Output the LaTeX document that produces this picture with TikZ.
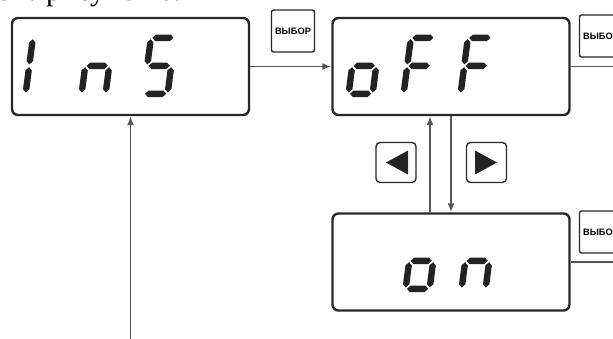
\documentclass[tikz,border=0pt]{standalone}
\usepackage{fontspec}
\setmainfont{Liberation Serif}
\newfontfamily\btnfont{Liberation Sans}
\usetikzlibrary{arrows.meta, positioning}
\definecolor{FrameGray}{RGB}{40,40,40}
\definecolor{LineGray}{RGB}{85,85,85}
\definecolor{SegGray}{RGB}{35,35,35}

\newcommand{\segh}[3]{\fill[SegGray] (#1+1.4,#3) -- (#1+4.6,#3+3.2) -- (#2-4.6,#3+3.2)
  -- (#2-1.4,#3) -- (#2-4.6,#3-3.2) -- (#1+4.6,#3-3.2) -- cycle;}
\newcommand{\segv}[3]{\fill[SegGray] (#1,#2+1.4) -- (#1+3.2,#2+4.6) -- (#1+3.2,#3-4.6)
  -- (#1,#3-1.4) -- (#1-3.2,#3-4.6) -- (#1-3.2,#2+4.6) -- cycle;}
\newcommand{\dsega}{\segh{0}{24}{56}}
\newcommand{\dsegb}{\segv{24}{28}{56}}
\newcommand{\dsegc}{\segv{24}{0}{28}}
\newcommand{\dsegd}{\segh{0}{24}{0}}
\newcommand{\dsege}{\segv{0}{0}{28}}
\newcommand{\dsegf}{\segv{0}{28}{56}}
\newcommand{\dsegg}{\segh{0}{24}{28}}
\newcommand{\segdigit}[3]{\begin{scope}[shift={(#1,#2)}, xslant=0.13]
  \foreach \s in {#3}{\csname dseg\s\endcsname}\end{scope}}

\begin{document}
\begin{tikzpicture}[x=1pt, y=1pt,
  display/.style={draw=FrameGray, line width=2.4pt, rounded corners=6pt,
                  minimum width=237pt, minimum height=97pt, inner sep=0pt},
  choose/.style={draw=FrameGray, line width=1.4pt, rounded corners=2pt,
                 minimum width=43pt, minimum height=42pt, inner sep=0pt,
                 font=\btnfont\bfseries\fontsize{9.3}{10}\selectfont},
  arrowkey/.style={draw=FrameGray, line width=1.4pt, rounded corners=4pt,
                   minimum width=40pt, minimum height=40pt, inner sep=0pt},
  arr/.style={-{Latex[length=9pt, width=7pt]}, LineGray, line width=1.5pt},
  ln/.style={LineGray, line width=1.5pt},
]
\useasboundingbox (0,0) rectangle (613,-338);

\node[anchor=base east, inner sep=0pt, font=\fontsize{30}{34}\selectfont] (ref) at (211,-0.5) {см. рисунок 6.21};

\node[display] (ins) at (130.5,-66.5) {};
\node[display] (off) at (451,-66.5) {};
\node[display] (on) at (451,-262) {};

\node[choose] (sel1) at (293,-31) {ВЫБОР};
\node[choose] (sel2) at (601,-36) {ВЫБОР};
\node[choose] (sel3) at (601,-232) {ВЫБОР};

\node[arrowkey] (left) at (396,-162.5) {};
\node[arrowkey] (right) at (486.5,-162.5) {};
\fill[SegGray] ([xshift=-10pt]left.center) -- ++(22,12) -- ++(0,-24) -- cycle;
\fill[SegGray] ([xshift=10.5pt]right.center) -- ++(-22,12) -- ++(0,-24) -- cycle;

\segdigit{25.6}{-93.8}{e,f}
\segdigit{81.6}{-93.8}{c,e,g}
\segdigit{143.6}{-93.8}{a,c,d,f,g}
\segdigit{348.6}{-93.8}{c,d,e,g}
\segdigit{403.6}{-93.8}{a,e,f,g}
\segdigit{460.6}{-93.8}{a,e,f,g}
\segdigit{405.6}{-288.8}{c,d,e,g}
\segdigit{461.6}{-288.8}{c,e,g}

\coordinate (entry) at (ins.south |- 0,-345);
\coordinate (out2) at ([xshift=60pt]off.east);
\coordinate (out3) at ([xshift=60pt]on.east);

\draw[arr] (ins) -- (off);
\draw[ln] (off.east) -- (out2);
\draw[ln] (on.east) -- (out3);
\draw[arr] ([xshift=-21pt]on.north) -- ([xshift=-21pt]off.south);
\draw[arr] (off) -- (on);
\draw[arr] (entry) -- (ins);
\end{tikzpicture}
\end{document}
